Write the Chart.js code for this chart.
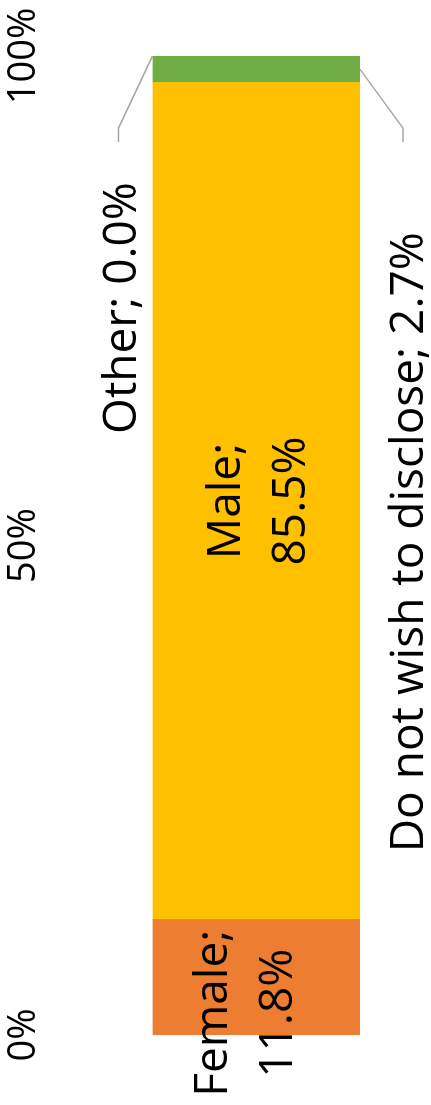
<!DOCTYPE html>
<html>
<head>
<meta charset="utf-8">
<title>Gender</title>
<script src="https://cdn.jsdelivr.net/npm/chart.js@4.4.1/dist/chart.umd.min.js"></script>
<style>
  html, body { margin: 0; padding: 0; background: #fff; overflow: hidden; }
  body { width: 431px; height: 1105px; position: relative; }
  /* chart is laid out as a horizontal bar, then turned to stand upright */
  #wrap { position: absolute; left: 0; top: 1105px; width: 1105px; height: 431px;
          transform-origin: 0 0; transform: rotate(-90deg); }
</style>
</head>
<body>
<div id="wrap"><canvas id="genderChart" width="1105" height="431"></canvas></div>
<script>
// Gender split, stacked to 100%
const categories = ['Female', 'Male', 'Do not wish to disclose', 'Other'];
const shares = [11.8, 85.5, 2.7, 0.0];
const colors = ['#ED7D31', '#FFC000', '#70AD47', '#A5A5A5'];
const tickValues = [0, 50, 100];

// where each data label sits, relative to its segment (px)
const labelPlace = [
    { dx: -36, lines: [-29, 36] },
    { dx: 0, lines: [-16, 49] },
    { dx: -473, lines: [167], leader: { ex: -59, ey: 43, end: -73 } },
    { dx: -252, lines: [-120], leader: { ex: -72, ey: -34, end: -86 } }
];

const labelFont = '46px "Open Sans"';

const dataLabels = {
    id: 'dataLabels',
    afterDatasetsDraw(chart) {
        const ctx = chart.ctx;
        ctx.save();
        chart.data.datasets.forEach((ds, i) => {
            const bar = chart.getDatasetMeta(i).data[0];
            const mid = (bar.x + bar.base) / 2;
            const place = labelPlace[i];
            const text = ds.label + '; ' + ds.data[0].toFixed(1) + '%';
            const parts = place.lines.length > 1 ? [ds.label + ';', ds.data[0].toFixed(1) + '%'] : [text];

            if (place.leader) {
                const edge = place.leader.ey < 0 ? bar.y - bar.height / 2 : bar.y + bar.height / 2;
                ctx.beginPath();
                ctx.strokeStyle = '#A6A6A6';
                ctx.lineWidth = 1.5;
                ctx.moveTo(mid, edge);
                ctx.lineTo(mid + place.leader.ex, edge + place.leader.ey);
                ctx.lineTo(mid + place.leader.end, edge + place.leader.ey);
                ctx.stroke();
            }

            ctx.fillStyle = '#000';
            ctx.font = labelFont;
            ctx.textAlign = 'center';
            ctx.textBaseline = 'alphabetic';
            parts.forEach((p, k) => {
                ctx.fillText(p, mid + place.dx, bar.y + place.lines[k]);
            });
        });
        ctx.restore();
    }
};

const ctx = document.getElementById('genderChart').getContext('2d');
new Chart(ctx, {
    type: 'bar',
    data: {
        labels: ['Gender'],
        datasets: categories.map((name, i) => ({
            label: name,
            data: [shares[i]],
            backgroundColor: colors[i],
            borderWidth: 0,
            barPercentage: 1,
            categoryPercentage: 1
        }))
    },
    options: {
        indexAxis: 'y',
        responsive: false,
        animation: false,
        devicePixelRatio: 1,
        layout: { padding: { left: 70, right: 56, top: 0, bottom: 71 } },
        plugins: {
            legend: { display: false },
            tooltip: { enabled: false }
        },
        scales: {
            x: {
                position: 'top',
                stacked: true,
                min: 0,
                max: 100,
                afterBuildTicks: scale => {
                    scale.ticks = tickValues.map(v => ({ value: v }));
                },
                // fixed axis band; no side padding from the tick labels
                afterFit: scale => {
                    scale.height = 152.5;
                    scale.paddingLeft = 0;
                    scale.paddingRight = 0;
                },
                grid: { display: false, drawTicks: false },
                border: { display: false },
                ticks: {
                    padding: 106,
                    maxRotation: 0,
                    autoSkip: false,
                    color: '#000',
                    font: { family: 'Open Sans', size: 38 },
                    callback: v => v + '%'
                }
            },
            y: {
                stacked: true,
                display: false
            }
        }
    },
    plugins: [dataLabels]
});
</script>
</body>
</html>
